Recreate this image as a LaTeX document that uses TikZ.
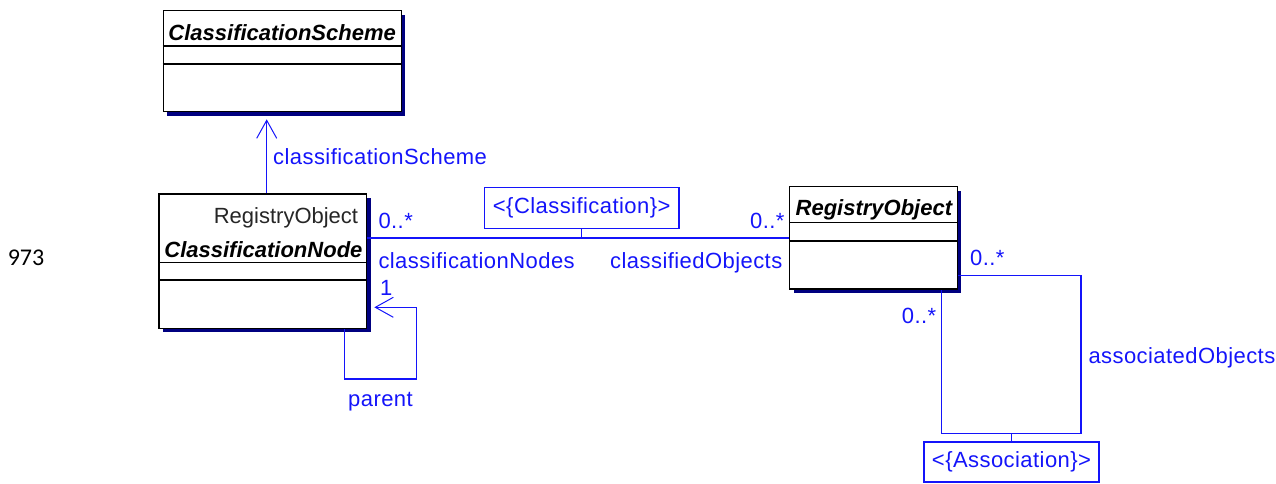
\documentclass[tikz,border=0pt]{standalone}
\usepackage{fontspec}
\setmainfont{Liberation Sans}
\newfontfamily\numfont{Carlito}
\newfontfamily\rolefont[LetterSpace=2]{Liberation Sans}
\usetikzlibrary{arrows.meta,shadows,calc}
\definecolor{umlblue}{RGB}{20,20,250}
\definecolor{shadownavy}{RGB}{0,0,128}
\begin{document}
\begin{tikzpicture}[x=1pt,y=-1pt,
  classbox/.style={draw=black, line width=1.3pt, fill=white, inner sep=0pt, anchor=north west,
    drop shadow={shadow xshift=4pt, shadow yshift=-4pt, fill=shadownavy, opacity=1}},
  divider/.style={draw=black, line width=1.1pt},
  classtitle/.style={inner sep=0pt, anchor=base, font=\fontsize{22}{26}\selectfont\bfseries\itshape},
  stereo/.style={inner sep=0pt, anchor=base east, font=\fontsize{22}{26}\selectfont, text=black!85},
  assoc/.style={draw=umlblue, line width=1.3pt},
  assocbox/.style={draw=umlblue, line width=1.3pt, fill=white, inner sep=0pt, text=umlblue,
    font=\rolefont\fontsize{22}{26}\selectfont},
  rolelabel/.style={inner sep=0pt, anchor=base west, text=umlblue, font=\rolefont\fontsize{22}{26}\selectfont},
  navarrow/.style={-{Straight Barb[length=18pt,width=20pt,line width=1pt]}}
]
\useasboundingbox (0,0) rectangle (1276,483);

% page number in the margin
\node[inner sep=0pt, font=\numfont\fontsize{24}{28}\selectfont] (pageno) at (26,258) {973};

% ClassificationScheme
\node[classbox, minimum width=238pt, minimum height=101pt] (cs) at (162.5,10) {};
\draw[divider] ($(cs.north west)+(0,36)$) -- ($(cs.north east)+(0,36)$);
\draw[divider] ($(cs.north west)+(0,54)$) -- ($(cs.north east)+(0,54)$);
\node[classtitle] (cstitle) at ($(cs.north)+(0,30)$) {ClassificationScheme};

% ClassificationNode
\node[classbox, minimum width=207.7pt, minimum height=134.4pt] (cn) at (158.3,193.3) {};
\draw[divider] ($(cn.north west)+(0,69.4)$) -- ($(cn.north east)+(0,69.4)$);
\draw[divider] ($(cn.north west)+(0,86.7)$) -- ($(cn.north east)+(0,86.7)$);
\node[stereo] (cnstereo) at ($(cn.north east)+(-9,30)$) {RegistryObject};
\node[classtitle] (cntitle) at ($(cn.north)+(0.6,64)$) {ClassificationNode};

% RegistryObject
\node[classbox, minimum width=167.7pt, minimum height=102.3pt] (ro) at (789,186) {};
\draw[divider] ($(ro.north west)+(0,36.7)$) -- ($(ro.north east)+(0,36.7)$);
\draw[divider] ($(ro.north west)+(0,55)$) -- ($(ro.north east)+(0,55)$);
\node[classtitle] (rotitle) at ($(ro.north)+(0.4,29)$) {RegistryObject};

% association classes
\node[assocbox, minimum width=194.7pt, minimum height=41pt] (cls) at (581.7,207.8) {<\{Classification\}>};
\node[assocbox, minimum width=175pt, minimum height=40pt] (asc) at (1011.5,462) {<\{Association\}>};

% classificationScheme navigation
\coordinate (cstip) at ($(cs.south west)+(104.2,7)$);
\draw[assoc, navarrow] (cn.north -| cstip) -- (cstip);
\node[rolelabel] (lcs) at (273,164) {classificationScheme};

% Classification association
\path (cls.south) ++(0,8.9) coordinate (clsjoin);
\draw[assoc] (cn.east |- clsjoin) -- (ro.west |- clsjoin);
\draw[assoc] (cls.south) -- (clsjoin);
\node[rolelabel] (m1) at (378.3,228) {0..*};
\node[rolelabel] (m2) at (750,228) {0..*};
\node[rolelabel] (lcn) at (378.3,268) {classificationNodes};
\node[rolelabel] (lco) at (610,268) {classifiedObjects};

% parent self-association
\coordinate (pin) at ($(cn.south west)+(186,0)$);
\coordinate (ploop) at (416.7,379);
\coordinate (ptip) at ($(cn.south east)+(7,-21.7)$);
\draw[assoc, navarrow] (pin) |- (ploop) |- (ptip);
\node[rolelabel] (m3) at (380,295) {1};
\node[rolelabel] (lpar) at (348,406) {parent};

% Association self-association
\coordinate (roout) at ($(ro.south east)+(0,-14.3)$);
\coordinate (roin) at ($(ro.south west)+(152.7,0)$);
\coordinate (aloop) at (1081,433.3);
\draw[assoc] (roout) -| (aloop) -| (roin);
\draw[assoc] (asc.north) -- (asc.north |- aloop);
\node[rolelabel] (m4) at (970,265) {0..*};
\node[rolelabel] (m5) at (901.7,323) {0..*};
\node[rolelabel] (lao) at (1088.3,363) {associatedObjects};
\end{tikzpicture}
\end{document}
